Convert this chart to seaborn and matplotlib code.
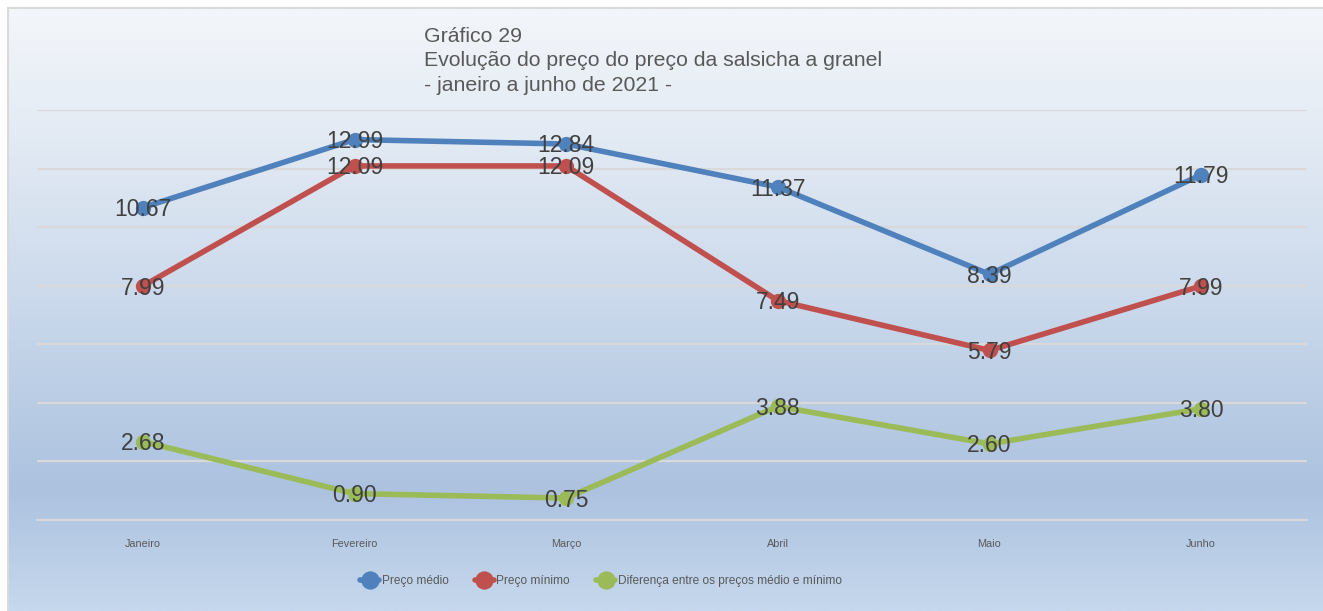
import numpy as np
import pandas as pd
import matplotlib
matplotlib.use("Agg")
import matplotlib.pyplot as plt
from matplotlib.colors import LinearSegmentedColormap
from matplotlib.patches import Rectangle
from matplotlib.transforms import offset_copy
import seaborn as sns

# Monthly bulk sausage prices (R$/kg), January to June 2021
meses = ["Janeiro", "Fevereiro", "Março", "Abril", "Maio", "Junho"]
preco_medio = [10.67, 12.99, 12.84, 11.37, 8.39, 11.79]
preco_minimo = [7.99, 12.09, 12.09, 7.49, 5.79, 7.99]
diferenca = [2.68, 0.90, 0.75, 3.88, 2.60, 3.80]

series = ["Preço médio", "Preço mínimo", "Diferença entre os preços médio e mínimo"]
cores = ["#4f81bd", "#c0504d", "#9bbb59"]

titulo = ["Gráfico 29",
          "Evolução do preço do preço da salsicha a granel",
          "- janeiro a junho de 2021 -"]

df = pd.DataFrame({
    "mes": meses * 3,
    "valor": preco_medio + preco_minimo + diferenca,
    "serie": [series[0]] * 6 + [series[1]] * 6 + [series[2]] * 6,
})

sns.set_theme(style="white")
plt.rcParams["font.family"] = ["Liberation Sans", "DejaVu Sans"]

W, H = 1323, 611
fig = plt.figure(figsize=(W / 100, H / 100), dpi=100)
fig.patch.set_facecolor("white")

# Gradient chart-area background
bg = fig.add_axes([8 / W, 0, 1 - 8 / W, 1 - 8 / H])
stops = [(0.0, "#f3f6fa"), (0.2, "#e4ebf4"), (0.5, "#c9d8eb"),
         (0.8, "#acc2df"), (1.0, "#c6d8ed")]
cmap = LinearSegmentedColormap.from_list("fundo", stops)
grad = np.linspace(0, 1, 512).reshape(-1, 1)
bg.imshow(grad, aspect="auto", cmap=cmap, extent=[0, 1, 0, 1], origin="upper")
bg.set_axis_off()
fig.patches.append(Rectangle((8 / W, -0.1), 1.1, 1 - 8 / H + 0.1,
                             transform=fig.transFigure, fill=False,
                             edgecolor="#d9d9d9", linewidth=1.5, zorder=5))

ax = fig.add_axes([37 / W, (H - 520) / H, 1270 / W, 410 / H])
ax.set_facecolor("none")

sns.lineplot(data=df, x="mes", y="valor", hue="serie", hue_order=series,
             palette=cores, marker="o", markersize=11, markeredgewidth=0,
             linewidth=4, sort=False, ax=ax, zorder=3)

ax.set_xlim(-0.5, len(meses) - 0.5)
ax.set_ylim(0, 14)
ax.set_yticks(np.arange(0, 15, 2))
ax.yaxis.grid(True, color="#d9d9d9", linewidth=1.6)
ax.set_axisbelow(True)
ax.tick_params(axis="y", left=False, labelleft=False)
ax.tick_params(axis="x", length=0, pad=14, labelsize=7.8, labelcolor="#595959")
for side in ["top", "right", "left"]:
    ax.spines[side].set_visible(False)
ax.spines["bottom"].set_color("#d9d9d9")
ax.spines["bottom"].set_linewidth(1.6)
ax.set_xlabel("")
ax.set_ylabel("")

# Value labels centred on each point
rotulo_trans = offset_copy(ax.transData, fig=fig, x=0, y=-2, units="dots")
for vals in [preco_medio, preco_minimo, diferenca]:
    for i, v in enumerate(vals):
        ax.text(i, v, f"{v:.2f}", ha="center", va="center", fontsize=16.5,
                color="#404040", zorder=4, transform=rotulo_trans)

handles, labels = ax.get_legend_handles_labels()
ax.get_legend().remove()
fig.legend(handles, labels, loc="center", bbox_to_anchor=(601 / W, 1 - 581 / H),
           ncol=3, frameon=False, fontsize=8.6, labelcolor="#595959",
           handlelength=1.6, handletextpad=0.2, columnspacing=2.2,
           markerscale=1.2)

for k, linha in enumerate(titulo):
    fig.text(424 / W, 1 - (42 + 24.5 * k) / H, linha, ha="left", va="baseline",
             fontsize=15.3, color="#595959")

fig.savefig("out.png", dpi=100)
